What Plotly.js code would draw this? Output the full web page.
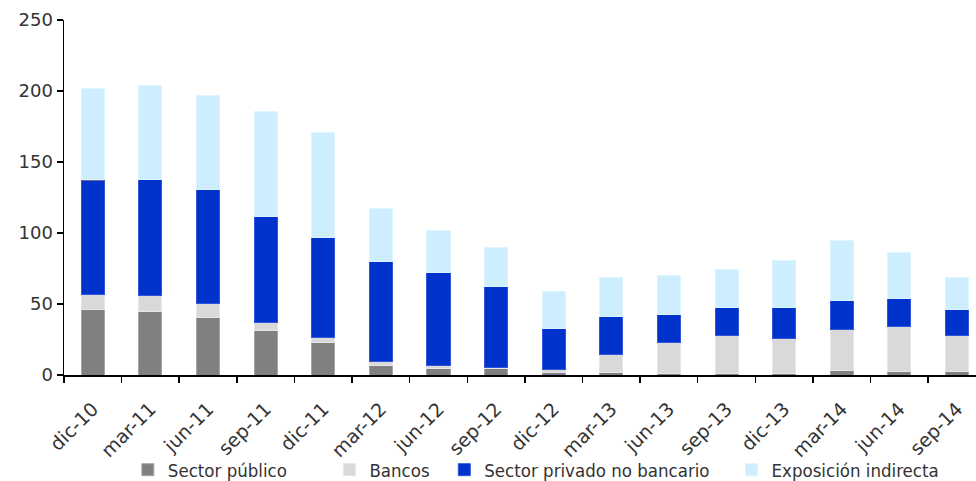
<!DOCTYPE html>
<html>
<head>
<meta charset="utf-8">
<script src="https://cdn.plot.ly/plotly-3.0.1.min.js"></script>
<style>html,body{margin:0;padding:0;background:#fff;}#chart{width:976px;height:481px;}</style>
</head>
<body>
<div id="chart"></div>
<script>
const categories = ["dic-10","mar-11","jun-11","sep-11","dic-11","mar-12","jun-12","sep-12","dic-12","mar-13","jun-13","sep-13","dic-13","mar-14","jun-14","sep-14"];
const sectorPublico = [46, 45, 40.5, 31.5, 23, 6.5, 4.5, 4.5, 2, 2, 1, 1, 1, 3.3, 2.3, 2.3];
const bancos = [11, 11, 10, 5.8, 3.3, 3.3, 2.3, 1.1, 2.1, 12.2, 22, 26.5, 24.4, 28.6, 31.7, 25.2];
const sectorPrivado = [79.8, 81.9, 79.8, 74.4, 70.2, 70.1, 65.7, 56.9, 28.9, 27.2, 19.7, 19.7, 21.8, 20.9, 19.8, 18.5];
const otros = [1.2, 0, 0, 0, 0, 0, 0, 0, 0, 0, 0, 0, 0, 0, 0, 0];
const exposicionIndirecta = [64, 66, 66.2, 73.8, 74.5, 37.6, 29.6, 27.6, 26.1, 27.5, 27.7, 27.4, 33.1, 41.8, 32.8, 23];
const yTicks = [0, 50, 100, 150, 200, 250];

const mk = (name, y, color, lineColor, legendId, showlegend) => ({
  type: 'bar', name: name, x: categories, y: y, showlegend: showlegend, legend: legendId,
  marker: {color: color, line: {color: lineColor, width: 1}},
  width: 0.4, hoverinfo: 'x+y+name'
});

const data = [
  mk('Sector público', sectorPublico, '#808080', '#a6a6a6', 'legend', true),
  mk('Bancos', bancos, '#d9d9d9', '#e6e6e6', 'legend2', true),
  mk('Sector privado no bancario', sectorPrivado, '#0033cc', '#3355dd', 'legend3', true),
  mk('Otros', otros, '#7060a8', '#7060a8', 'legend', false),
  mk('Exposición indirecta', exposicionIndirecta, '#cceeff', '#dff4ff', 'legend4', true)
];

const legFont = {family: 'DejaVu Sans Condensed, DejaVu Sans', size: 18.5, color: '#333'};
const leg = (x) => ({orientation: 'h', x: x, xanchor: 'left', y: -0.268, yanchor: 'middle',
  font: legFont, itemwidth: 30, bgcolor: 'rgba(0,0,0,0)'});

const layout = {
  width: 976, height: 481,
  margin: {l: 64, r: 0, t: 20, b: 106, autoexpand: false},
  paper_bgcolor: '#fff', plot_bgcolor: '#fff',
  barmode: 'stack',
  font: {family: 'DejaVu Sans', size: 18, color: '#333'},
  xaxis: {
    type: 'category', range: [-0.5, 15.33], automargin: false,
    showline: true, linecolor: '#000', linewidth: 1.5,
    ticks: 'outside', ticklen: 6, tickcolor: '#000', tickwidth: 1.5,
    tickson: 'boundaries', tickangle: -45, ticklabelstandoff: 14,
    tickfont: {family: 'DejaVu Sans', size: 19, color: '#333'},
    showgrid: false, zeroline: false, fixedrange: true
  },
  yaxis: {
    range: [0, 250], tickvals: yTicks, ticktext: yTicks.map(String), automargin: false,
    showline: true, linecolor: '#000', linewidth: 1.5,
    ticks: 'outside', ticklen: 6, tickcolor: '#000', tickwidth: 1.5,
    tickfont: {family: 'DejaVu Sans', size: 18, color: '#333'},
    showgrid: false, zeroline: false, fixedrange: true
  },
  legend: leg(0.07),
  legend2: leg(0.291),
  legend3: leg(0.417),
  legend4: leg(0.732),
  showlegend: true
};

Plotly.newPlot('chart', data, layout, {displayModeBar: false, staticPlot: true});
</script>
</body>
</html>
